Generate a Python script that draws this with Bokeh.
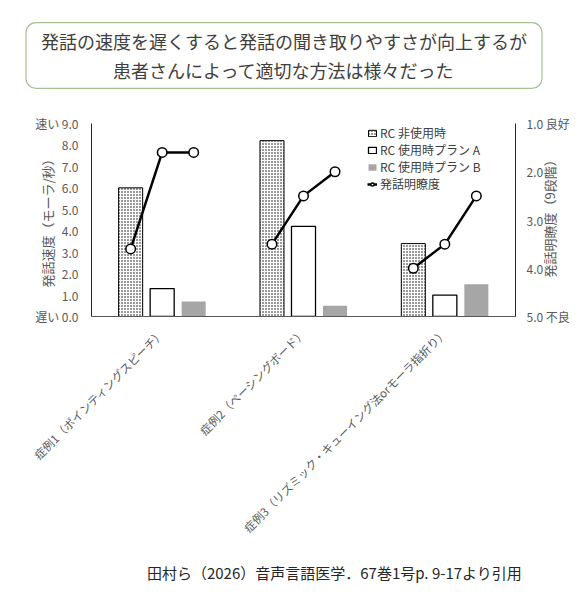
from math import pi
from bokeh.plotting import figure
from bokeh.models import (FactorRange, Range1d, LinearAxis, FixedTicker, Label,
                          Legend, LegendItem, ColumnDataSource)
from bokeh.transform import dodge
from bokeh.embed import file_html
from bokeh.resources import INLINE

# ---------------- data ----------------
cases = ["症例1（ポインティングスピーチ）",
         "症例2（ペーシングボード）",
         "症例3（リズミック・キューイング法orモーラ指折り）"]
series_names = ["RC 非使用時", "RC 使用時プラン A", "RC 使用時プラン B"]
speed_rc_off = [6.0, 8.2, 3.4]
speed_plan_a = [1.3, 4.2, 1.0]
speed_plan_b = [0.7, 0.5, 1.5]
line_name = "発話明瞭度"
intel_case1 = [3.6, 1.6, 1.6]
intel_case2 = [3.5, 2.5, 2.0]
intel_case3 = [4.0, 3.5, 2.5]
left_ticks = [0, 1, 2, 3, 4, 5, 6, 7, 8, 9]
right_ticks = [1, 2, 3, 4, 5]
left_end_words = {9: "速い", 0: "遅い"}
right_end_words = {1: "良好", 5: "不良"}
left_title = "発話速度（モーラ/秒）"
right_title = "発話明瞭度（9段階）"
title_text = "発話の速度を遅くすると発話の聞き取りやすさが向上するが\n患者さんによって適切な方法は様々だった"
source_text = "田村ら（2026）音声言語医学．67巻1号p. 9-17より引用"

# ---------------- style ----------------
FONT = "Noto Sans CJK JP"
TXT = "#595959"
OFF = 0.223
BAR_W = 0.17
offsets = [-OFF, 0.0, OFF]
W = 572


def blank_fig(h):
    f = figure(width=W, height=h, x_range=Range1d(0, 1), y_range=Range1d(0, 1),
               x_axis_type=None, y_axis_type=None, output_backend="svg",
               toolbar_location=None, min_border=0)
    f.outline_line_color = None
    f.grid.visible = False
    return f


# ---------------- title ----------------
top = blank_fig(100)
top.add_layout(Label(x=283.5, y=45, x_units="screen", y_units="screen", text=title_text,
                     text_align="center", text_baseline="middle",
                     text_font=FONT, text_font_size="18px", text_color="#404040",
                     text_line_height=1.15,
                     border_line_color="#a8c191", border_line_width=1.2, border_radius=10,
                     background_fill_color="white",
                     padding=dict(left=15, right=15, top=5, bottom=5)))

# ---------------- main chart ----------------
p = figure(width=W, height=450,
           x_range=FactorRange(factors=cases, range_padding=0),
           y_range=Range1d(0, 9),
           output_backend="svg", toolbar_location=None,
           min_border_left=91, min_border_right=57,
           min_border_top=23, min_border_bottom=234)
p.extra_y_ranges = {"right": Range1d(start=5, end=1)}
p.outline_line_color = None
p.grid.visible = False

src = ColumnDataSource(dict(case=cases, off=speed_rc_off, a=speed_plan_a, b=speed_plan_b))

r_off = p.vbar(x=dodge("case", -OFF, range=p.x_range), top="off", width=BAR_W, source=src,
               fill_color="white", line_color="black", line_width=1,
               hatch_pattern=".", hatch_color="black", hatch_scale=3, hatch_weight=1.6)
r_a = p.vbar(x=dodge("case", 0.0, range=p.x_range), top="a", width=BAR_W, source=src,
             fill_color="white", line_color="black", line_width=1.3)
r_b = p.vbar(x=dodge("case", OFF, range=p.x_range), top="b", width=BAR_W, source=src,
             fill_color="#a6a6a6", line_color=None)

line_rs = []
for case, vals in zip(cases, [intel_case1, intel_case2, intel_case3]):
    xs = [(case, o) for o in offsets]
    lr = p.line(xs, vals, y_range_name="right", line_color="black", line_width=2.5)
    sr = p.scatter(xs, vals, y_range_name="right", marker="circle", size=9.5,
                   fill_color="white", line_color="black", line_width=1.5)
    line_rs.append((lr, sr))

# x axis
xa = p.xaxis[0]
xa.major_label_orientation = pi / 4
xa.major_label_text_font = FONT
xa.major_label_text_font_size = "11.5px"
xa.major_label_text_color = TXT
xa.major_tick_line_color = None
xa.minor_tick_line_color = None
xa.axis_line_color = "#595959"
xa.major_label_standoff = 8

# left axis
ya = p.yaxis[0]
ya.ticker = FixedTicker(ticks=left_ticks)
ya.major_label_overrides = {t: (left_end_words[t] + " " if t in left_end_words else "") + f"{t:.1f}"
                            for t in left_ticks}
ya.major_label_text_font = FONT
ya.major_label_text_font_size = "12px"
ya.major_label_text_color = TXT
ya.major_tick_line_color = None
ya.minor_tick_line_color = None
ya.axis_line_color = "#262626"
ya.major_label_standoff = 7
ya.axis_label = left_title
ya.axis_label_text_font = FONT
ya.axis_label_text_font_size = "13px"
ya.axis_label_text_font_style = "normal"
ya.axis_label_text_color = TXT
ya.axis_label_standoff = -25

# right axis
ra = LinearAxis(y_range_name="right", ticker=FixedTicker(ticks=right_ticks))
ra.major_label_overrides = {t: f"{t:.1f}" + (" " + right_end_words[t] if t in right_end_words else "")
                            for t in right_ticks}
ra.major_label_text_font = FONT
ra.major_label_text_font_size = "12px"
ra.major_label_text_color = TXT
ra.major_tick_line_color = None
ra.minor_tick_line_color = None
ra.axis_line_color = "#262626"
ra.major_label_standoff = 5
ra.axis_label = right_title
ra.axis_label_text_font = FONT
ra.axis_label_text_font_size = "13px"
ra.axis_label_text_font_style = "normal"
ra.axis_label_text_color = TXT
ra.axis_label_standoff = -23
_props = ra.properties()
if "axis_label_orientation" in _props and "axis_label_align" in _props:
    ra.axis_label_orientation = pi / 2
    ra.axis_label_align = "end"
    ra.axis_label = "\u3000\u3000\u3000" + right_title
p.add_layout(ra, "right")

# legend
items = [LegendItem(label=series_names[0], renderers=[r_off]),
         LegendItem(label=series_names[1], renderers=[r_a]),
         LegendItem(label=series_names[2], renderers=[r_b]),
         LegendItem(label=line_name, renderers=list(line_rs[0]))]
leg = Legend(items=items, location=(276, 124), padding=0, margin=0, spacing=0,
             glyph_width=10, glyph_height=8, label_height=14, label_standoff=3,
             label_text_font=FONT, label_text_font_size="12px", label_text_color="#404040",
             background_fill_alpha=0, border_line_color=None)
p.add_layout(leg, "center")

# ---------------- source caption ----------------
bot = blank_fig(42)
bot.add_layout(Label(x=334, y=20, x_units="screen", y_units="screen", text=source_text,
                     text_align="center", text_baseline="middle",
                     text_font=FONT, text_font_size="15px", text_color="#262626"))

open("out.html", "w").write(file_html([top, p, bot], INLINE))
